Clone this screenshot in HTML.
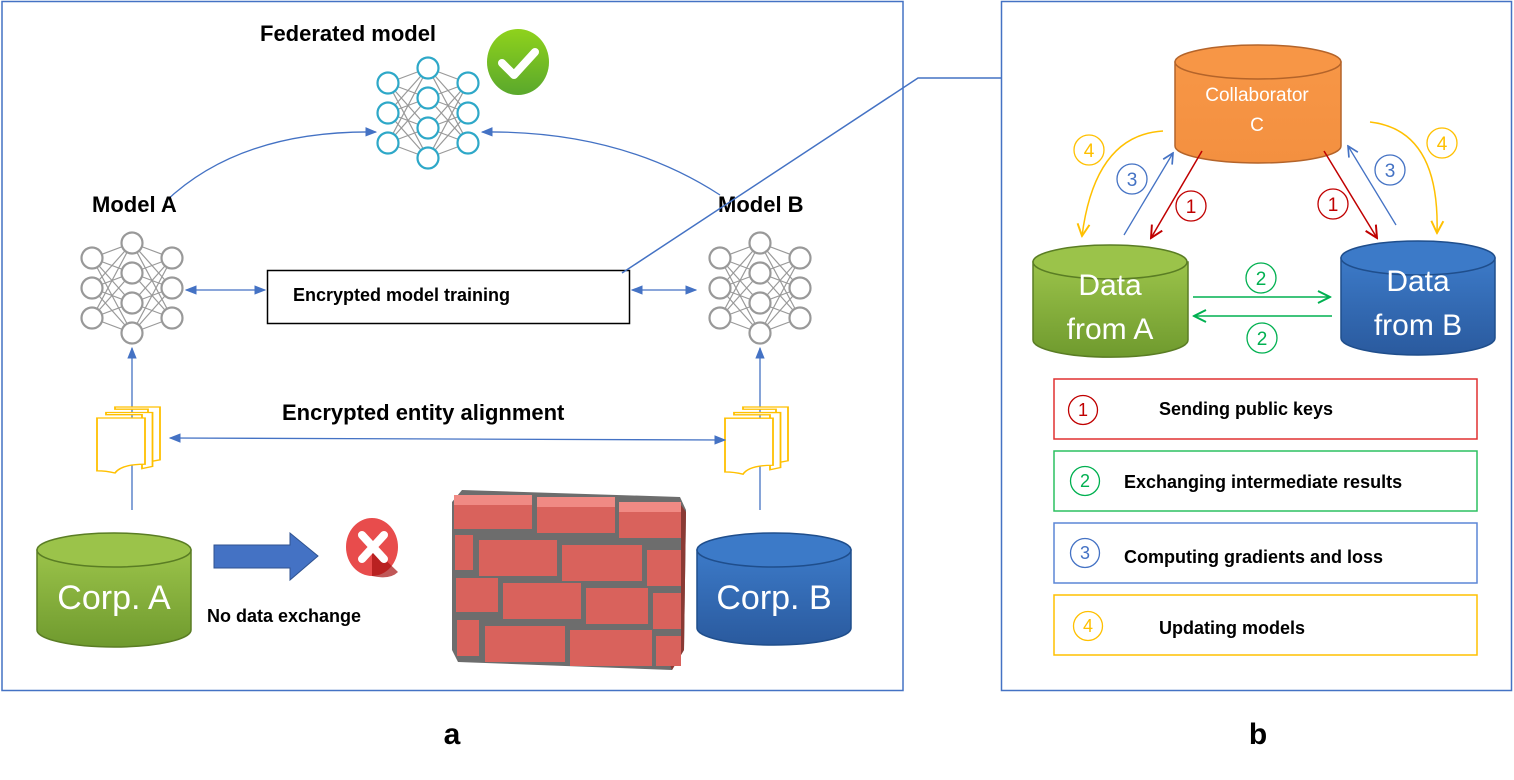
<!DOCTYPE html>
<html><head><meta charset="utf-8"><style>
html,body{margin:0;padding:0;background:#fff}
svg{display:block}
text{font-family:"Liberation Sans",sans-serif}
</style></head><body>
<svg width="1514" height="780" viewBox="0 0 1514 780" xmlns="http://www.w3.org/2000/svg">
<defs>
<marker id="ab" viewBox="0 0 10 10" refX="9" refY="5" markerWidth="9" markerHeight="9" orient="auto-start-reverse"><path d="M0 1L10 5L0 9z" fill="#4472c4"/></marker>
<marker id="ar" viewBox="0 0 10 10" refX="9" refY="5" markerWidth="10" markerHeight="10" orient="auto"><path d="M1 1L9 5L1 9" fill="none" stroke="#c00000" stroke-width="1.3"/></marker>
<marker id="abl" viewBox="0 0 10 10" refX="9" refY="5" markerWidth="10" markerHeight="10" orient="auto"><path d="M1 1L9 5L1 9" fill="none" stroke="#4472c4" stroke-width="1.3"/></marker>
<marker id="ay" viewBox="0 0 10 10" refX="9" refY="5" markerWidth="10" markerHeight="10" orient="auto"><path d="M1 1L9 5L1 9" fill="none" stroke="#ffc000" stroke-width="1.3"/></marker>
<marker id="ag" viewBox="0 0 10 10" refX="9" refY="5" markerWidth="10" markerHeight="10" orient="auto"><path d="M1 1L9 5L1 9" fill="none" stroke="#00b050" stroke-width="1.3"/></marker>
<g id="half">
<path d="M-40 -30L0 -45M-40 -30L0 -15M-40 -30L0 15M-40 -30L0 45M-40 0L0 -45M-40 0L0 -15M-40 0L0 15M-40 0L0 45M-40 30L0 -45M-40 30L0 -15M-40 30L0 15M-40 30L0 45" stroke="#999" stroke-width="1.2" fill="none"/>
</g>
<g id="net">
<use href="#half"/><use href="#half" transform="scale(-1,1)"/>
<g fill="#fff" stroke="currentColor" stroke-width="2.2">
<circle cx="-40" cy="-30" r="10.5"/><circle cx="-40" cy="0" r="10.5"/><circle cx="-40" cy="30" r="10.5"/>
<circle cx="40" cy="-30" r="10.5"/><circle cx="40" cy="0" r="10.5"/><circle cx="40" cy="30" r="10.5"/>
<circle cx="0" cy="-45" r="10.5"/><circle cx="0" cy="-15" r="10.5"/><circle cx="0" cy="15" r="10.5"/><circle cx="0" cy="45" r="10.5"/>
</g></g>
<g id="doc" fill="#fff" stroke="#ffc000" stroke-width="1.2">
<path d="M12 0H42V48L34 50V2H12Z"/>
<path d="M6 5H37V54L30 56V7H6Z"/>
<path d="M0 10H32V52Q16 52 12 60Q6 58 0 58Z"/>
</g>
<linearGradient id="gG" x1="0" y1="0" x2="0" y2="1"><stop offset="0" stop-color="#9bc34a"/><stop offset="1" stop-color="#6f9a2e"/></linearGradient>
<linearGradient id="gB" x1="0" y1="0" x2="0" y2="1"><stop offset="0" stop-color="#3c7ac8"/><stop offset="1" stop-color="#2a5a9e"/></linearGradient>
<linearGradient id="gO" x1="0" y1="0" x2="0" y2="1"><stop offset="0" stop-color="#f79646"/><stop offset="1" stop-color="#f39040"/></linearGradient>
<linearGradient id="gC" x1="0" y1="0" x2="0" y2="1"><stop offset="0" stop-color="#8fd21c"/><stop offset="1" stop-color="#5aa82c"/></linearGradient>
</defs>

<rect x="2" y="1.5" width="901" height="689" fill="none" stroke="#4472c4" stroke-width="1.5"/>
<rect x="1001.5" y="1.5" width="510" height="689" fill="none" stroke="#4472c4" stroke-width="1.5"/>

<text x="260" y="41" font-size="22" font-weight="bold">Federated model</text>
<use href="#net" transform="translate(428,113)" style="color:#2ea8c8"/>
<ellipse cx="518" cy="62" rx="31" ry="33" fill="url(#gC)"/>
<path d="M502 63L514 75L535 52" fill="none" stroke="#fff" stroke-width="8" stroke-linecap="round" stroke-linejoin="round"/>

<path d="M165 202Q240 130 376 132" fill="none" stroke="#4472c4" stroke-width="1.3" marker-end="url(#ab)"/>
<path d="M720 195Q620 130 482 132" fill="none" stroke="#4472c4" stroke-width="1.3" marker-end="url(#ab)"/>

<text x="92" y="212" font-size="22" font-weight="bold">Model A</text>
<text x="718" y="212" font-size="22" font-weight="bold">Model B</text>
<use href="#net" transform="translate(132,288)" style="color:#999"/>
<use href="#net" transform="translate(760,288)" style="color:#999"/>

<rect x="267.5" y="270.5" width="362" height="53" fill="#fff" stroke="#000" stroke-width="1.5"/>
<text x="293" y="301" font-size="18" font-weight="bold">Encrypted model training</text>
<line x1="186" y1="290" x2="265" y2="290" stroke="#4472c4" stroke-width="1.3" marker-start="url(#ab)" marker-end="url(#ab)"/>
<line x1="632" y1="290" x2="696" y2="290" stroke="#4472c4" stroke-width="1.3" marker-start="url(#ab)" marker-end="url(#ab)"/>
<polyline points="622,273 918,78 1001,78" fill="none" stroke="#4472c4" stroke-width="1.5"/>

<line x1="132" y1="510" x2="132" y2="348" stroke="#4472c4" stroke-width="1.3" marker-end="url(#ab)"/>
<line x1="760" y1="510" x2="760" y2="348" stroke="#4472c4" stroke-width="1.3" marker-end="url(#ab)"/>
<use href="#doc" transform="translate(97,407) scale(1.5,1.1)"/>
<use href="#doc" transform="translate(725,407) scale(1.5,1.12)"/>
<text x="282" y="420" font-size="22" font-weight="bold">Encrypted entity alignment</text>
<line x1="170" y1="438" x2="725" y2="440" stroke="#4472c4" stroke-width="1.3" marker-start="url(#ab)" marker-end="url(#ab)"/>

<path d="M37 550V630A77 17 0 0 0 191 630V550Z" fill="url(#gG)" stroke="#5a7d24" stroke-width="1.5"/>
<ellipse cx="114" cy="550" rx="77" ry="17" fill="#9bc34a" stroke="#5a7d24" stroke-width="1.5"/>
<text x="114" y="609" font-size="34" fill="#fff" text-anchor="middle">Corp. A</text>
<path d="M697 550V628A77 17 0 0 0 851 628V550Z" fill="url(#gB)" stroke="#1f4e8c" stroke-width="1.5"/>
<ellipse cx="774" cy="550" rx="77" ry="17" fill="#3c7ac8" stroke="#1f4e8c" stroke-width="1.5"/>
<text x="774" y="609" font-size="34" fill="#fff" text-anchor="middle">Corp. B</text>

<path d="M214 545H290V533L318 556L290 580V568H214Z" fill="#4472c4" stroke="#2f528f"/>
<ellipse cx="372" cy="547" rx="26" ry="29" fill="#e84c4c"/>
<path d="M372 547L398 572Q390 580 372 576Z" fill="#a51010" opacity="0.7"/>
<path d="M362 535L384 559M384 535L362 559" stroke="#fff" stroke-width="8" stroke-linecap="round"/>
<text x="207" y="622" font-size="18" font-weight="bold">No data exchange</text>

<g>
<path d="M452 502L462 490L680 497L686 510L684 650L672 670L458 662L452 650Z" fill="#6d6d6d"/>
<path d="M681 505L686 512L684 650L672 670L668 660L681 640Z" fill="#8a3a34"/>
<g fill="#d9625c">
<rect x="454" y="495" width="78" height="34"/><rect x="537" y="497" width="78" height="36"/><rect x="619" y="502" width="62" height="36"/>
<rect x="455" y="535" width="18" height="35"/><rect x="479" y="540" width="78" height="36"/><rect x="562" y="545" width="80" height="36"/><rect x="647" y="550" width="34" height="36"/>
<rect x="456" y="578" width="42" height="34"/><rect x="503" y="583" width="78" height="36"/><rect x="586" y="588" width="62" height="36"/><rect x="653" y="593" width="28" height="36"/>
<rect x="457" y="620" width="22" height="36"/><rect x="485" y="626" width="80" height="36"/><rect x="570" y="630" width="82" height="36"/><rect x="656" y="636" width="25" height="30"/>
</g>
<g fill="#f08a84">
<rect x="454" y="495" width="78" height="10"/><rect x="537" y="497" width="78" height="10"/><rect x="619" y="502" width="62" height="10"/>
</g>
</g>

<path d="M1175 62V146A83 17 0 0 0 1341 146V62Z" fill="url(#gO)" stroke="#b4642a" stroke-width="1.5"/>
<ellipse cx="1258" cy="62" rx="83" ry="17" fill="#f79646" stroke="#b4642a" stroke-width="1.5"/>
<text x="1257" y="101" font-size="19" fill="#fff" text-anchor="middle">Collaborator</text>
<text x="1257" y="131" font-size="19" fill="#fff" text-anchor="middle">C</text>

<path d="M1033 262V340A77 17 0 0 0 1188 340V262Z" fill="url(#gG)" stroke="#5a7d24" stroke-width="1.5"/>
<ellipse cx="1110" cy="262" rx="77" ry="17" fill="#9bc34a" stroke="#5a7d24" stroke-width="1.5"/>
<text x="1110" y="295" font-size="30" fill="#fff" text-anchor="middle">Data</text>
<text x="1110" y="339" font-size="30" fill="#fff" text-anchor="middle">from A</text>

<path d="M1341 258V338A77 17 0 0 0 1495 338V258Z" fill="url(#gB)" stroke="#1f4e8c" stroke-width="1.5"/>
<ellipse cx="1418" cy="258" rx="77" ry="17" fill="#3c7ac8" stroke="#1f4e8c" stroke-width="1.5"/>
<text x="1418" y="291" font-size="30" fill="#fff" text-anchor="middle">Data</text>
<text x="1418" y="335" font-size="30" fill="#fff" text-anchor="middle">from B</text>

<line x1="1202" y1="151" x2="1151" y2="238" stroke="#c00000" stroke-width="1.5" marker-end="url(#ar)"/>
<line x1="1324" y1="151" x2="1377" y2="238" stroke="#c00000" stroke-width="1.5" marker-end="url(#ar)"/>
<line x1="1124" y1="235" x2="1173" y2="153" stroke="#4472c4" stroke-width="1.3" marker-end="url(#abl)"/>
<line x1="1396" y1="225" x2="1348" y2="146" stroke="#4472c4" stroke-width="1.3" marker-end="url(#abl)"/>
<path d="M1163 131Q1095 135 1082 236" fill="none" stroke="#ffc000" stroke-width="1.5" marker-end="url(#ay)"/>
<path d="M1370 122Q1440 130 1437 233" fill="none" stroke="#ffc000" stroke-width="1.5" marker-end="url(#ay)"/>
<line x1="1193" y1="297" x2="1330" y2="297" stroke="#00b050" stroke-width="1.5" marker-end="url(#ag)"/>
<line x1="1332" y1="316" x2="1194" y2="316" stroke="#00b050" stroke-width="1.5" marker-end="url(#ag)"/>

<g font-family="Liberation Serif,serif" font-size="19" text-anchor="middle" fill="none" stroke-width="1.3">
<circle cx="1089" cy="150" r="15" stroke="#ffc000"/><text x="1089" y="157" fill="#ffc000" stroke="none">4</text>
<circle cx="1132" cy="179" r="15" stroke="#4472c4"/><text x="1132" y="186" fill="#4472c4" stroke="none">3</text>
<circle cx="1191" cy="206" r="15" stroke="#c00000"/><text x="1191" y="213" fill="#c00000" stroke="none">1</text>
<circle cx="1333" cy="204" r="15" stroke="#c00000"/><text x="1333" y="211" fill="#c00000" stroke="none">1</text>
<circle cx="1390" cy="170" r="15" stroke="#4472c4"/><text x="1390" y="177" fill="#4472c4" stroke="none">3</text>
<circle cx="1442" cy="143" r="15" stroke="#ffc000"/><text x="1442" y="150" fill="#ffc000" stroke="none">4</text>
<circle cx="1261" cy="278" r="15" stroke="#00b050"/><text x="1261" y="285" fill="#00b050" stroke="none">2</text>
<circle cx="1262" cy="338" r="15" stroke="#00b050"/><text x="1262" y="345" fill="#00b050" stroke="none">2</text>
</g>

<rect x="1054" y="379" width="423" height="60" fill="none" stroke="#e03030" stroke-width="1.5"/>
<rect x="1054" y="451" width="423" height="60" fill="none" stroke="#2cc060" stroke-width="1.5"/>
<rect x="1054" y="523" width="423" height="60" fill="none" stroke="#5b86d6" stroke-width="1.5"/>
<rect x="1054" y="595" width="423" height="60" fill="none" stroke="#ffc000" stroke-width="1.5"/>
<g font-family="Liberation Serif,serif" font-size="18" text-anchor="middle" fill="none" stroke-width="1.3">
<circle cx="1083" cy="410" r="14.5" stroke="#c00000"/><text x="1083" y="416" fill="#c00000" stroke="none">1</text>
<circle cx="1085" cy="481" r="14.5" stroke="#00b050"/><text x="1085" y="487" fill="#00b050" stroke="none">2</text>
<circle cx="1085" cy="553" r="14.5" stroke="#4472c4"/><text x="1085" y="559" fill="#4472c4" stroke="none">3</text>
<circle cx="1088" cy="626" r="14.5" stroke="#ffc000"/><text x="1088" y="632" fill="#ffc000" stroke="none">4</text>
</g>
<g font-size="18" font-weight="bold">
<text x="1159" y="415">Sending public keys</text>
<text x="1124" y="488">Exchanging  intermediate results</text>
<text x="1124" y="563">Computing gradients and loss</text>
<text x="1159" y="634">Updating models</text>
</g>

<text x="452" y="744" font-size="30" font-weight="bold" text-anchor="middle">a</text>
<text x="1258" y="744" font-size="30" font-weight="bold" text-anchor="middle">b</text>
</svg>
</body></html>
